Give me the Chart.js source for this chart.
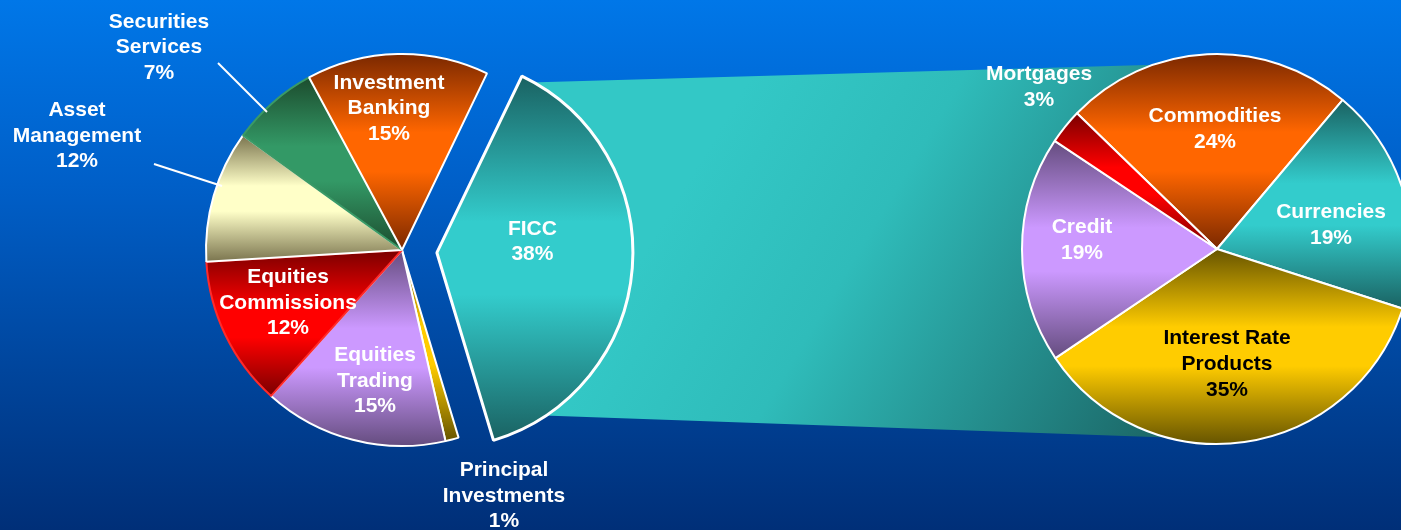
<!DOCTYPE html>
<html><head><meta charset="utf-8">
<script src="https://cdn.jsdelivr.net/npm/chart.js@4.4.1/dist/chart.umd.min.js"></script>
<style>
html,body{margin:0;padding:0;width:1401px;height:530px;overflow:hidden;}
body{background:linear-gradient(to bottom,#0077e8 0%,#005fc8 35%,#00459c 70%,#002f78 100%);}
canvas{position:absolute;left:0;top:0;}
</style></head><body>
<canvas id="right" width="1401" height="530"></canvas>
<canvas id="left" width="1401" height="530"></canvas>
<script>
// ---- data ----
const leftCategories = ['FICC', 'Principal\nInvestments', 'Equities\nTrading', 'Equities\nCommissions', 'Asset\nManagement', 'Securities\nServices', 'Investment\nBanking'];
const leftValues = [38.2, 1.1, 15.2, 12.4, 10.9, 7.2, 15.0];
const leftPercentLabels = ['38%', '1%', '15%', '12%', '12%', '7%', '15%'];
const rightCategories = ['Commodities', 'Currencies', 'Interest Rate\nProducts', 'Credit', 'Mortgages'];
const rightValues = [23.9, 18.8, 35.6, 18.8, 2.9];
const rightPercentLabels = ['24%', '19%', '35%', '19%', '3%'];

// ---- style / layout ----
const W = 1401, H = 530;
const C = {
  teal: ['#1a6262', '#33cccc'], orange: ['#7a2800', '#ff6600'], purple: ['#644c7e', '#cc99ff'],
  red: ['#7a0000', '#ff0000'], cream: ['#7a744e', '#ffffc8'], green: ['#1c4c2e', '#339966'], gold: ['#665400', '#ffcc00']
};
const leftStyle = {
  center: [402, 250], radius: 196, rotation: 25.7, explodeIndex: 0, explode: 35,
  colors: [C.teal, C.gold, C.purple, C.red, C.cream, C.green, C.orange],
  border: ['#ffffff', '#ffffff', '#ffffff', '#ff2a2a', '#ffffff', '#3a9a66', '#ffffff'],
  borderWidth: [3, 2, 2, 2, 2, 2, 2],
  textColor: ['#fff', '#fff', '#fff', '#fff', '#fff', '#fff', '#fff'],
  labelPos: [[95.5, -11], [102, 246], [-27, 131], [-114, 53], [-325, -114], [-243, -202.5], [-13, -141.5]],
  leaders: [null, null, null, null, [[-248, -86], [-180, -64]], [[-184, -187], [-135, -138]], null],
  lineHeight: 25.5
};
const rightStyle = {
  center: [1217, 249], radius: 195, rotation: -45.9, explodeIndex: -1, explode: 0,
  colors: [C.orange, C.teal, C.gold, C.purple, C.red],
  border: ['#fff', '#fff', '#fff', '#fff', '#fff'],
  borderWidth: [2, 2, 2, 2, 2],
  textColor: ['#fff', '#fff', '#000', '#fff', '#fff'],
  labelPos: [[-2, -119.7], [114, -24], [10, 115.5], [-135, -8.3], [-178, -161.5]],
  leaders: [null, null, null, null, null],
  lineHeight: 26
};
const FONT = 'bold 21px "Liberation Sans", Arial, Helvetica, sans-serif';

function paddingFor(center) {
  const [cx, cy] = center;
  const hw = Math.min(cx, W - cx), hh = Math.min(cy, H - cy);
  return { left: cx - hw, right: W - cx - hw, top: cy - hh, bottom: H - cy - hh };
}

function explodeShift(arc, st, i) {
  if (i !== st.explodeIndex) return [0, 0];
  const mid = (arc.startAngle + arc.endAngle) / 2;
  return [Math.cos(mid) * st.explode, Math.sin(mid) * st.explode];
}

function sliceGradient(ctx, arc, dark, light) {
  const { x, y, startAngle, endAngle, outerRadius: r } = arc;
  const ys = [y, y + r * Math.sin(startAngle), y + r * Math.sin(endAngle)];
  for (let k = -3; k <= 3; k++) {
    const up = -Math.PI / 2 + 2 * Math.PI * k, dn = Math.PI / 2 + 2 * Math.PI * k;
    if (up > startAngle && up < endAngle) ys.push(y - r);
    if (dn > startAngle && dn < endAngle) ys.push(y + r);
  }
  const top = Math.min(...ys), bot = Math.max(...ys);
  const g = ctx.createLinearGradient(0, top, 0, bot);
  g.addColorStop(0, dark);
  g.addColorStop(0.4, light);
  g.addColorStop(0.6, light);
  g.addColorStop(1, dark);
  return g;
}

function makePiePlugin(st, percentLabels) {
  return {
    id: 'piePlugin',
    beforeDatasetsDraw(chart) {
      const meta = chart.getDatasetMeta(0);
      meta.data.forEach((arc, i) => {
        arc.options.backgroundColor = sliceGradient(chart.ctx, arc, st.colors[i][0], st.colors[i][1]);
        if (i === st.explodeIndex && !arc.__exploded) {
          const proto = Object.getPrototypeOf(arc);
          arc.draw = function (ctx) {
            const [dx, dy] = explodeShift(this, st, i);
            ctx.save();
            ctx.translate(dx, dy);
            proto.draw.call(this, ctx);
            ctx.restore();
          };
          arc.__exploded = true;
        }
      });
    },
    afterDatasetsDraw(chart) {
      const ctx = chart.ctx;
      const meta = chart.getDatasetMeta(0);
      ctx.save();
      ctx.font = FONT;
      ctx.textAlign = 'center';
      ctx.textBaseline = 'middle';
      meta.data.forEach((arc, i) => {
        const [sx, sy] = explodeShift(arc, st, i);
        const cx = arc.x + sx, cy = arc.y + sy;
        const lines = String(chart.data.labels[i]).split('\n').concat([percentLabels[i]]);
        const [dx, dy] = st.labelPos[i];
        const y0 = cy + dy - (lines.length - 1) * st.lineHeight / 2;
        ctx.fillStyle = st.textColor[i];
        lines.forEach((t, k) => ctx.fillText(t, cx + dx, y0 + k * st.lineHeight));
        const ld = st.leaders[i];
        if (ld) {
          ctx.strokeStyle = '#ffffff';
          ctx.lineWidth = 2;
          ctx.beginPath();
          ctx.moveTo(cx + ld[0][0], cy + ld[0][1]);
          ctx.lineTo(cx + ld[1][0], cy + ld[1][1]);
          ctx.stroke();
        }
      });
      ctx.restore();
    }
  };
}

function pieConfig(categories, values, percentLabels, st, extraPlugins) {
  return {
    type: 'pie',
    data: {
      labels: categories,
      datasets: [{
        data: values,
        backgroundColor: st.colors.map(c => c[1]),
        borderColor: st.border,
        borderWidth: st.borderWidth,
        clip: false
      }]
    },
    options: {
      responsive: false, animation: false, events: [],
      rotation: st.rotation, radius: st.radius,
      layout: { padding: paddingFor(st.center) },
      plugins: { legend: { display: false }, tooltip: { enabled: false } }
    },
    plugins: [...extraPlugins, makePiePlugin(st, percentLabels)]
  };
}

const leftChart = new Chart(document.getElementById('left'), pieConfig(leftCategories, leftValues, leftPercentLabels, leftStyle, []));

const bandPlugin = {
  id: 'band',
  beforeDatasetsDraw(chart) {
    const la = leftChart.getDatasetMeta(0).data[leftStyle.explodeIndex];
    const [sx, sy] = explodeShift(la, leftStyle, leftStyle.explodeIndex);
    const fx = la.x + sx, fy = la.y + sy, R = la.outerRadius;
    const ra = chart.getDatasetMeta(0).data[0];
    const rx = ra.x, ry = ra.y, rr = ra.outerRadius;
    const ctx = chart.ctx;
    ctx.save();
    const g = ctx.createLinearGradient(fx + 1.3 * R, fy - 0.4 * R, rx - 0.4 * rr, ry + 1.0 * rr);
    g.addColorStop(0, '#33c8c6');
    g.addColorStop(0.35, '#2fbcba');
    g.addColorStop(1, '#1c6a6a');
    ctx.fillStyle = g;
    ctx.beginPath();
    ctx.moveTo(fx + 0.474 * R, fy - 0.869 * R);
    ctx.lineTo(rx, ry - 0.954 * rr);
    ctx.lineTo(rx, ry + 0.976 * rr);
    ctx.lineTo(fx + 0.474 * R, fy + 0.828 * R);
    ctx.closePath();
    ctx.fill();
    ctx.restore();
  }
};

const rightChart = new Chart(document.getElementById('right'), pieConfig(rightCategories, rightValues, rightPercentLabels, rightStyle, [bandPlugin]));
</script>
</body></html>
